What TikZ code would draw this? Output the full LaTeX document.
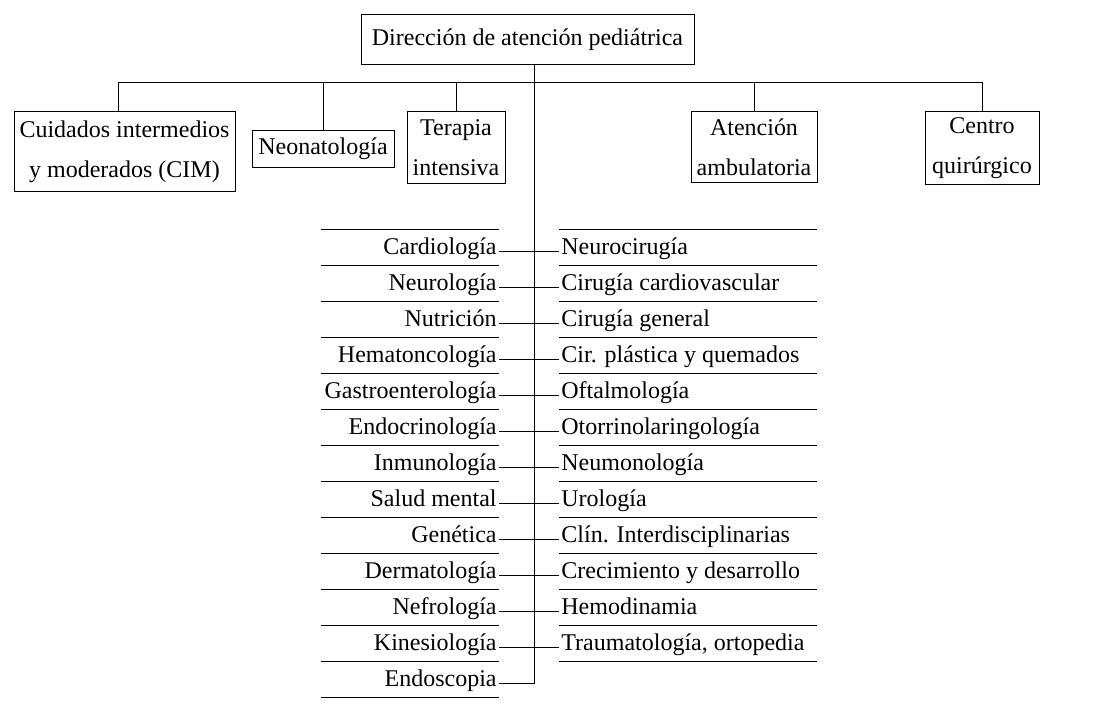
\documentclass[tikz,border=0pt]{standalone}
\usepackage{fontspec}
\setmainfont{Liberation Serif}
\tikzset{
  unitbox/.style={draw, align=center, anchor=north, inner xsep=2pt, inner ysep=3pt,
    font=\fontsize{12}{20}\selectfont},
  leftrow/.style={anchor=east, inner xsep=1pt, inner ysep=0pt, text height=6pt, text depth=2.5pt,
    font=\fontsize{12}{14}\selectfont},
  rightrow/.style={leftrow, anchor=west}
}
\begin{document}
\begin{tikzpicture}[x=0.5pt,y=-0.5pt]
  \useasboundingbox (0,0) rectangle (1100,720);
  %draw boxes
    \node[unitbox, minimum width=166.5pt, minimum height=25pt] (dir) at (527.5,14) {Dirección de atención pediátrica};
    \node[unitbox, minimum width=110.5pt, minimum height=40pt] (cim) at (124.5,111) {Cuidados intermedios\\y moderados (CIM)};
    \node[unitbox, minimum width=71pt, minimum height=18.5pt] (neo) at (323,130) {Neonatología};
    \node[unitbox, minimum width=49pt, minimum height=36pt] (ter) at (456,111) {Terapia\\intensiva};
    \node[unitbox, minimum width=63pt, minimum height=35.5pt] (amb) at (754,111) {Atención\\ambulatoria};
    \node[unitbox, minimum width=57pt, minimum height=35.5pt] (cq) at (982,111) {Centro\\quirúrgico};
  %draw bus
    \coordinate (bus) at (534,82);
    \coordinate (trunk) at (534,64);
    \draw ([xshift=-3pt]cim.north) -- ([xshift=-3pt]cim.north |- bus) -- (cq.north |- bus) -- (cq.north);
    \foreach \b in {neo,ter,amb}
       \draw (\b.north) -- (\b.north |- bus);
  %rules between services
    \foreach \k in {0,...,13}
       \draw (321,229+36*\k) -- (499,229+36*\k);
    \foreach \k in {0,...,12}
       \draw (559,229+36*\k) -- (817,229+36*\k);
  %insert services
    \foreach \lbl [count=\k from 0] in {Cardiología,Neurología,Nutrición,Hematoncología,
        Gastroenterología,Endocrinología,Inmunología,Salud mental,Genética,Dermatología,
        Nefrología,Kinesiología,Endoscopia}
       \node[leftrow] (l\k) at (499,251+36*\k) {\lbl};
    \foreach \lbl [count=\k from 0] in {Neurocirugía,Cirugía cardiovascular,Cirugía general,
        Cir. plástica y quemados,Oftalmología,Otorrinolaringología,Neumonología,Urología,
        Clín. Interdisciplinarias,Crecimiento y desarrollo,Hemodinamia,{Traumatología, ortopedia}}
       \node[rightrow] (r\k) at (559,251+36*\k) {\lbl};
  %draw trunk and stubs
    \draw (dir.south -| trunk) -- (trunk |- l12.east) -- (l12.east);
    \foreach \k in {0,...,11} {
       \draw (l\k.east) -- (l\k.east -| trunk);
       \draw (r\k.west) -- (r\k.west -| trunk);
    }
\end{tikzpicture}
\end{document}
